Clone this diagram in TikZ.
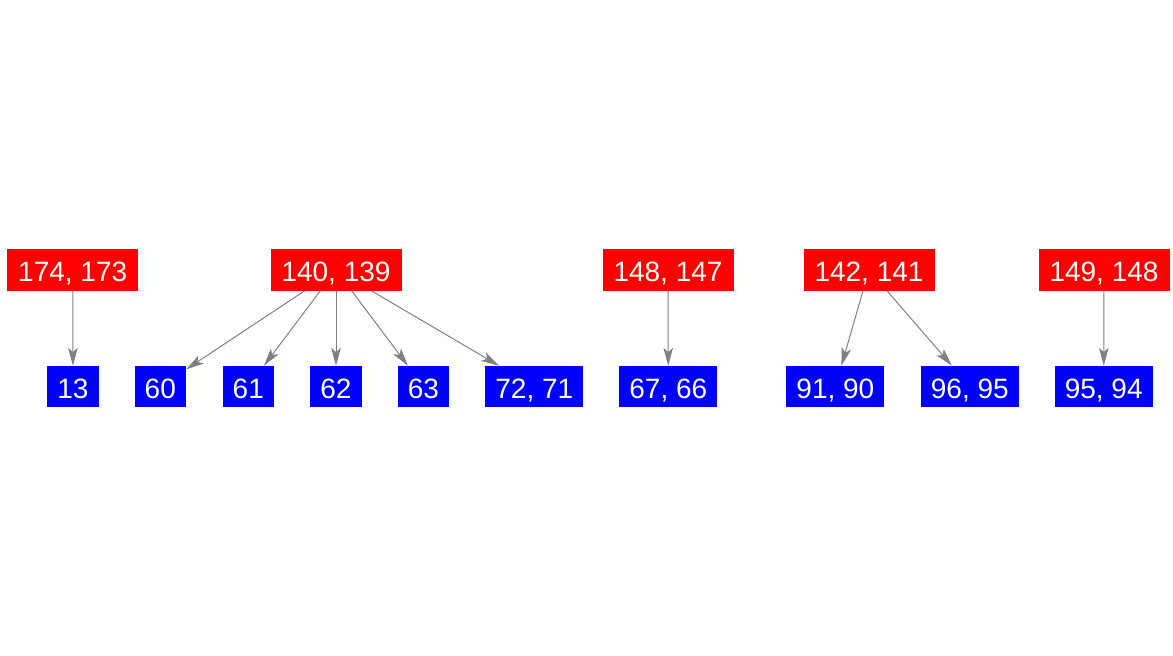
\documentclass[tikz,border=0pt]{standalone}
\usepackage{fontspec}
\setmainfont{Liberation Sans}
\usetikzlibrary{arrows.meta}
\definecolor{edgegray}{HTML}{808080}
\tikzset{
  box/.style={rectangle, inner sep=0pt, outer sep=0pt, text=white,
    font=\fontsize{14}{16}\selectfont, text height=12pt, text depth=0pt,
    minimum height=20.75pt},
  redbox/.style={box, fill=red, minimum width=65.5pt, minimum height=21pt},
  bluewide/.style={box, fill=blue, minimum width=49pt},
  bluenarrow/.style={box, fill=blue, minimum width=25.75pt},
  edge/.style={draw=edgegray, line width=0.5pt,
    -{Stealth[length=9pt,width=4.8pt,inset=2.2pt]}}
}
\begin{document}
\begin{tikzpicture}[x=0.5pt,y=-0.5pt]
\useasboundingbox (0,0) rectangle (1173,656);
\node[redbox] (r1) at (72.7,270) {174, 173};
\node[redbox] (r2) at (336,270) {140, 139};
\node[redbox] (r3) at (668,270) {148, 147};
\node[redbox] (r4) at (869,270) {142, 141};
\node[redbox] (r5) at (1104,270) {149, 148};

\node[bluenarrow] (b13) at (73,386.5) {13};
\node[bluenarrow] (b60) at (160.3,386.5) {60};
\node[bluenarrow] (b61) at (248.3,386.5) {61};
\node[bluenarrow] (b62) at (336,386.5) {62};
\node[bluenarrow] (b63) at (423.5,386.5) {63};
\node[bluewide] (b72) at (534.3,386.5) {72, 71};
\node[bluewide] (b67) at (668.3,386.5) {67, 66};
\node[bluewide] (b91) at (835.4,386.5) {91, 90};
\node[bluewide] (b96) at (969.8,386.5) {96, 95};
\node[bluewide] (b95) at (1103.7,386.5) {95, 94};

\draw[edge] (r1) -- (b13);
\draw[edge] (r2) -- (b60);
\draw[edge] (r2) -- (b61);
\draw[edge] (r2) -- (b62);
\draw[edge] (r2) -- (b63);
\draw[edge] (r2) -- (b72);
\draw[edge] (r3) -- (b67);
\draw[edge] (r4) -- (b91);
\draw[edge] (r4) -- (b96);
\draw[edge] (r5) -- (b95);
\end{tikzpicture}
\end{document}
